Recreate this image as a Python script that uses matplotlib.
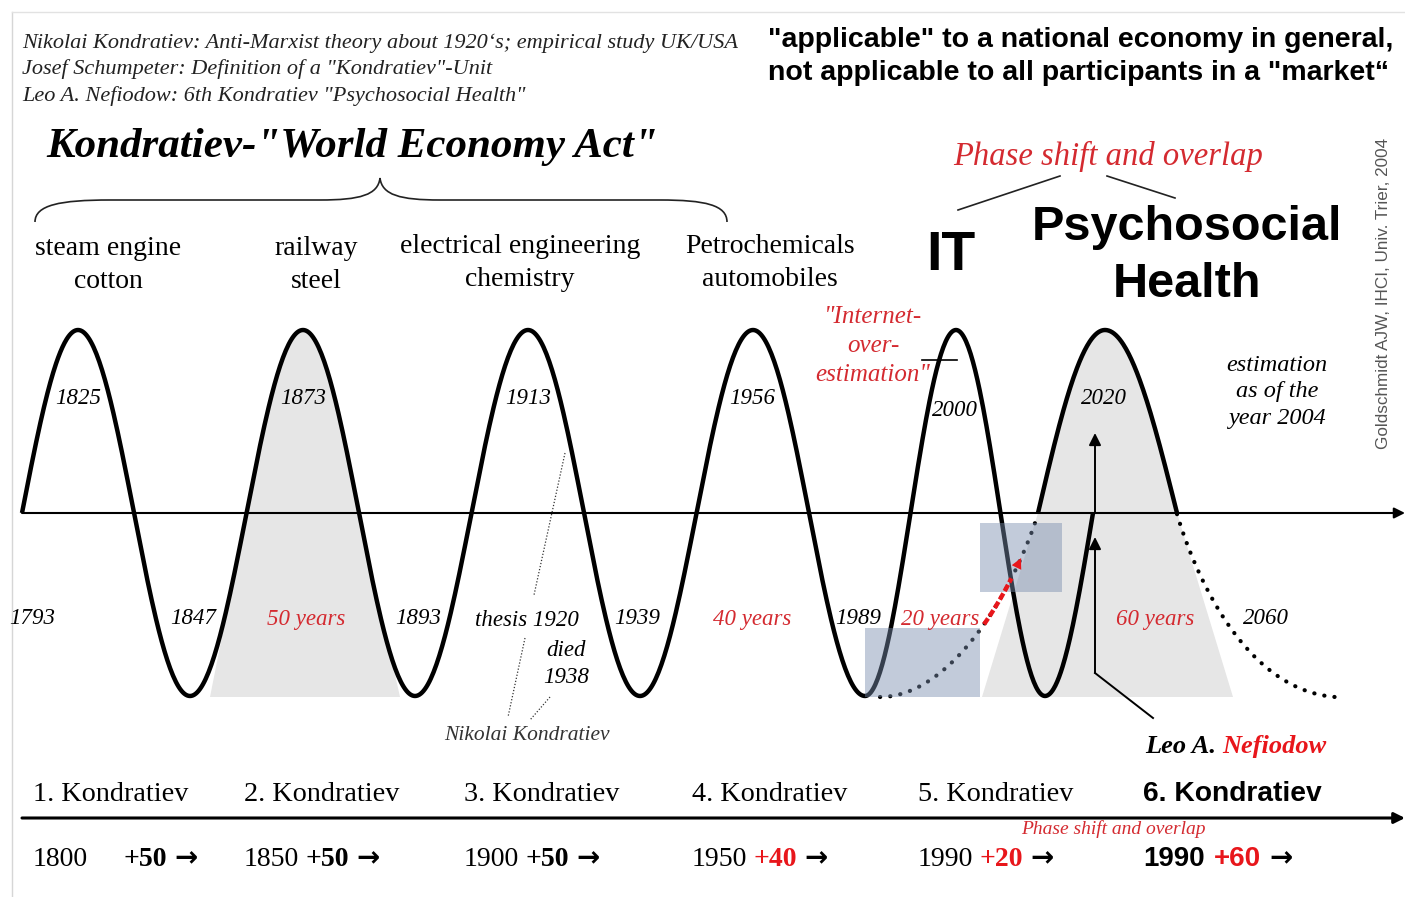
"""Kondratiev long-wave diagram (schematic), redrawn with matplotlib."""

import numpy as np
import matplotlib.pyplot as plt
from matplotlib.path import Path
from matplotlib.patches import PathPatch, Polygon, Rectangle

SERIF = "Liberation Serif"
SANS = "Liberation Sans"
RED = "#d42a30"
RED_BOLD = "#e8161b"
GRAY_FILL = "#e6e6e6"

# ---- data -------------------------------------------------------------
HEADER_LINES = [
    "Nikolai Kondratiev: Anti-Marxist theory about 1920\u2018s; empirical study UK/USA",
    'Josef Schumpeter: Definition of a "Kondratiev"-Unit',
    'Leo A. Nefiodow: 6th Kondratiev "Psychosocial Health"',
]
NOTE_LINES = [
    '"applicable" to a national economy in general,',
    'not applicable to all participants in a "market\u201c',
]
SECTORS = [
    "steam engine\ncotton",
    "railway\nsteel",
    "electrical engineering\nchemistry",
    "Petrochemicals\nautomobiles",
]
PEAK_YEARS = ["1825", "1873", "1913", "1956", "2000", "2020"]
TROUGH_YEARS = ["1793", "1847", "1893", "1939", "1989", "2060"]
SPAN_LABELS = ["50 years", "40 years", "20 years", "60 years"]
WAVE_NAMES = ["1. Kondratiev", "2. Kondratiev", "3. Kondratiev",
              "4. Kondratiev", "5. Kondratiev", "6. Kondratiev"]
START_YEARS = ["1800", "1850", "1900", "1950", "1990", "1990"]
DURATIONS = ["+50", "+50", "+50", "+40", "+20", "+60"]

# ---- layout (pixel canvas, schematic) ---------------------------------
AXIS_Y = 513
AMP = 183
# turning points of the main wave: (x, level) level in {-1, 0, 1}
WAVE_NODES = [(22, 0), (78, 1), (190, -1), (303, 1), (415, -1), (528, 1),
              (640, -1), (753, 1), (865, -1), (956, 1), (1045, -1), (1093, 0)]
SIXTH_NODES = [(1038, 0), (1105, 1), (1177, 0)]
PEAK_LABEL_XY = [(78, 399), (303, 399), (528, 399), (752, 399), (955, 411), (1104, 399)]
TROUGH_LABEL_X = [32, 193, 418, 637, 858, 1266]
SPAN_LABEL_X = [306, 752, 940, 1155]
SECTOR_XY = [(108, 265), (316, 265), (520, 263), (770, 263)]
COLUMN_X = [33, 244, 464, 692, 918, 1143]


def wave_path(nodes, n=80):
    xs, ys = [], []
    for (x0, v0), (x1, v1) in zip(nodes[:-1], nodes[1:]):
        t = np.linspace(0, 1, n)
        if v0 == 0:
            v = v1 * np.sin(np.pi / 2 * t)
        elif v1 == 0:
            v = v0 * np.cos(np.pi / 2 * t)
        else:
            v = v0 + (v1 - v0) * (1 - np.cos(np.pi * t)) / 2
        xs.append(x0 + (x1 - x0) * t)
        ys.append(AXIS_Y - AMP * v)
    return np.concatenate(xs), np.concatenate(ys)


def bezier(p0, p1, p2, p3, t):
    t = np.asarray(t)[:, None]
    pts = ((1 - t) ** 3 * np.array(p0) + 3 * (1 - t) ** 2 * t * np.array(p1)
           + 3 * (1 - t) * t ** 2 * np.array(p2) + t ** 3 * np.array(p3))
    return pts[:, 0], pts[:, 1]


fig = plt.figure(figsize=(14.05, 8.97), dpi=100)
ax = fig.add_axes([0, 0, 1, 1])
ax.set_xlim(0, 1405)
ax.set_ylim(897, 0)
ax.axis("off")
renderer = fig.canvas.get_renderer()


def rich(x, y, parts, size, family, style="normal"):
    """Draw text pieces one after another: parts = (gap, text, weight, color, fam)."""
    inv = ax.transData.inverted()
    for gap, s, weight, color, fam in parts:
        x += gap
        t = ax.text(x, y, s, fontsize=size, family=fam or family, fontweight=weight,
                    fontstyle=style, color=color, ha="left", va="baseline", zorder=6)
        bb = t.get_window_extent(renderer)
        x = inv.transform((bb.x1, bb.y0))[0]


# frame lines
ax.plot([12, 12], [12, 897], color="#d6d6d6", lw=1)
ax.plot([12, 1405], [12, 12], color="#e2e2e2", lw=1)

# header texts
for i, line in enumerate(HEADER_LINES):
    ax.text(22, 43 + 26.5 * i, line, family=SERIF, style="italic", fontsize=16,
            ha="left", va="center", color="#222222")
for i, line in enumerate(NOTE_LINES):
    ax.text(768, 40 + 33 * i, line, family=SANS, weight="bold", fontsize=20.5,
            ha="left", va="center")

ax.text(352, 147, 'Kondratiev-"World Economy Act"', family=SERIF, style="italic",
        weight="bold", fontsize=31, ha="center", va="center")

# curly brace
brace = Path(
    [(35, 222), (35, 205), (60, 200), (110, 200), (320, 200),
     (360, 200), (378, 195), (380, 178),
     (382, 195), (400, 200), (440, 200), (660, 200),
     (705, 200), (727, 205), (727, 222)],
    [Path.MOVETO, Path.CURVE4, Path.CURVE4, Path.CURVE4, Path.LINETO,
     Path.CURVE4, Path.CURVE4, Path.CURVE4,
     Path.CURVE4, Path.CURVE4, Path.CURVE4, Path.LINETO,
     Path.CURVE4, Path.CURVE4, Path.CURVE4])
ax.add_patch(PathPatch(brace, fill=False, lw=1.2, color="#222222"))

for (x, y), s in zip(SECTOR_XY, SECTORS):
    ax.text(x, y, s, family=SERIF, fontsize=20, ha="center", va="center",
            linespacing=1.4)
ax.text(951, 256, "IT", family=SANS, weight="bold", fontsize=40, ha="center", va="center")
ax.text(1187, 256, "Psychosocial\nHealth", family=SANS, weight="bold", fontsize=35,
        ha="center", va="center", linespacing=1.33)
ax.text(1108, 156, "Phase shift and overlap", family=SERIF, style="italic",
        fontsize=23.5, color=RED, ha="center", va="center")
ax.plot([1060, 958], [176, 210], color="#222222", lw=1.2)
ax.plot([1107, 1175], [176, 198], color="#222222", lw=1.2)

ax.text(1384, 293, "Goldschmidt AJW, IHCI, Univ. Trier, 2004", family=SANS,
        fontsize=12.3, color="#555555", rotation=90, ha="center", va="center")

# gray fills under the 2nd and 6th peaks
wx, wy = wave_path(WAVE_NODES)
m = (wx >= 246.5) & (wx <= 359)
ax.add_patch(Polygon(np.column_stack([np.r_[210, wx[m], 400],
                                      np.r_[697, wy[m], 697]]),
                     color=GRAY_FILL, lw=0, zorder=1))
sx, sy = wave_path(SIXTH_NODES)
ax.add_patch(Polygon(np.column_stack([np.r_[982, sx, 1233],
                                      np.r_[697, sy, 697]]),
                     color=GRAY_FILL, lw=0, zorder=1))

# time axes
ax.annotate("", xy=(1405, AXIS_Y), xytext=(22, AXIS_Y), zorder=2,
            arrowprops=dict(arrowstyle="-|>", lw=1.5, color="black", mutation_scale=16,
                            shrinkA=0, shrinkB=0))
ax.annotate("", xy=(1405, 818), xytext=(22, 818), zorder=2,
            arrowprops=dict(arrowstyle="-|>", lw=2.2, color="black", mutation_scale=16,
                            shrinkA=0, shrinkB=0))

# waves
ax.plot(wx, wy, color="black", lw=3.2, zorder=3, solid_capstyle="butt")
ax.plot(sx, sy, color="black", lw=3.2, zorder=3, solid_capstyle="butt")
dot_style = dict(color="black", lw=3, linestyle=(0, (0.05, 2.4)),
                 dash_capstyle="round", zorder=3)
t = np.linspace(0, 1, 200)
lx, ly = bezier((880, 697), (950, 697), (1012, 595), (1038, 514), t)
ax.plot(lx, ly, **dot_style)
rx, ry = bezier((1177, 514), (1195, 575), (1245, 690), (1335, 697), t)
ax.plot(rx, ry, **dot_style)

# blue overlap boxes
ax.add_patch(Rectangle((865, 628), 115, 69, color=(0.47, 0.55, 0.68), alpha=0.45,
                       lw=0, zorder=4))
ax.add_patch(Rectangle((980, 523), 82, 69, color=(0.47, 0.55, 0.68), alpha=0.45,
                       lw=0, zorder=4))

# red dashed transition with arrow head
m = (lx >= 984) & (lx <= 1012)
ax.plot(lx[m], ly[m], color=RED_BOLD, lw=3.2, linestyle=(0, (1.6, 0.6)), zorder=5)
i0 = np.searchsorted(lx, 1008)
i1 = np.searchsorted(lx, 1021)
ax.annotate("", xy=(lx[i1], ly[i1]), xytext=(lx[i0], ly[i0]), zorder=5,
            arrowprops=dict(arrowstyle="-|>", lw=0, color=RED_BOLD, mutation_scale=19,
                            shrinkA=0, shrinkB=0))

# wave labels
for (x, y), s in zip(PEAK_LABEL_XY, PEAK_YEARS):
    ax.text(x, y, s, family=SERIF, style="italic", fontsize=16.5, ha="center",
            va="center", zorder=6)
for x, s in zip(TROUGH_LABEL_X, TROUGH_YEARS):
    ax.text(x, 619, s, family=SERIF, style="italic", fontsize=16.5, ha="center",
            va="center", zorder=6)
for x, s in zip(SPAN_LABEL_X, SPAN_LABELS):
    ax.text(x, 620, s, family=SERIF, style="italic", fontsize=16.5, ha="center",
            va="center", color=RED, zorder=6)

ax.text(527, 620, "thesis 1920", family=SERIF, style="italic", fontsize=16.5,
        ha="center", va="center")
ax.text(566, 664, "died\n1938", family=SERIF, style="italic", fontsize=16.5,
        ha="center", va="center", linespacing=1.4)
ax.text(527, 735, "Nikolai Kondratiev", family=SERIF, style="italic", fontsize=15.5,
        ha="center", va="center", color="#333333")
thin = dict(color="#333333", lw=0.9, linestyle=(0, (1, 1.5)))
ax.plot([565, 534], [453, 595], **thin)
ax.plot([525, 508], [638, 717], **thin)
ax.plot([550, 530], [697, 720], **thin)

ax.text(873, 346, '"Internet-\nover-\nestimation"', family=SERIF, style="italic",
        fontsize=18, color=RED, ha="center", va="center", linespacing=1.4)
ax.plot([922, 957], [360, 360], color="black", lw=1.2)

ax.text(1277, 392, "estimation\nas of the\nyear 2004", family=SERIF, style="italic",
        fontsize=17.5, ha="center", va="center", linespacing=1.37)

# Nefiodow arrows
arrow_kw = dict(arrowstyle="-|>", lw=1.4, color="black", mutation_scale=18,
                shrinkA=0, shrinkB=0)
ax.annotate("", xy=(1095, 433), xytext=(1095, 513), arrowprops=arrow_kw, zorder=5)
ax.annotate("", xy=(1095, 537), xytext=(1095, 673), arrowprops=arrow_kw, zorder=5)
ax.plot([1095, 1153], [673, 718], color="black", lw=1.4, zorder=5)
rich(1145, 753, [(0, "Leo A. ", "bold", "black", None),
                 (0, "Nefiodow", "bold", RED_BOLD, None)],
     19, SERIF, style="italic")

# bottom rows
for i, (x, name) in enumerate(zip(COLUMN_X, WAVE_NAMES)):
    last = i == len(WAVE_NAMES) - 1
    ax.text(x, 801, name, family=SANS if last else SERIF,
            weight="bold" if last else "normal", fontsize=20.3,
            ha="left", va="baseline")

ax.text(1113, 829, "Phase shift and overlap", family=SERIF, style="italic",
        fontsize=14, color=RED, ha="center", va="center")

ARROW_FONT = "DejaVu Sans"
for i, (x, yr, dur) in enumerate(zip(COLUMN_X, START_YEARS, DURATIONS)):
    last = i == len(START_YEARS) - 1
    dur_color = "black" if i < 3 else RED_BOLD
    if last:
        parts = [(0, yr, "bold", "black", None), (9, dur, "bold", dur_color, None),
                 (9, "\u2192", "bold", "black", ARROW_FONT)]
        rich(x, 866, parts, 20, SANS)
    else:
        gap = 35 if i == 0 else 6
        parts = [(0, yr, "normal", "black", None), (gap, dur, "bold", dur_color, None),
                 (8, "\u2192", "bold", "black", ARROW_FONT)]
        rich(x, 866, parts, 20, SERIF)

fig.savefig("out.png", dpi=100, facecolor="white")
